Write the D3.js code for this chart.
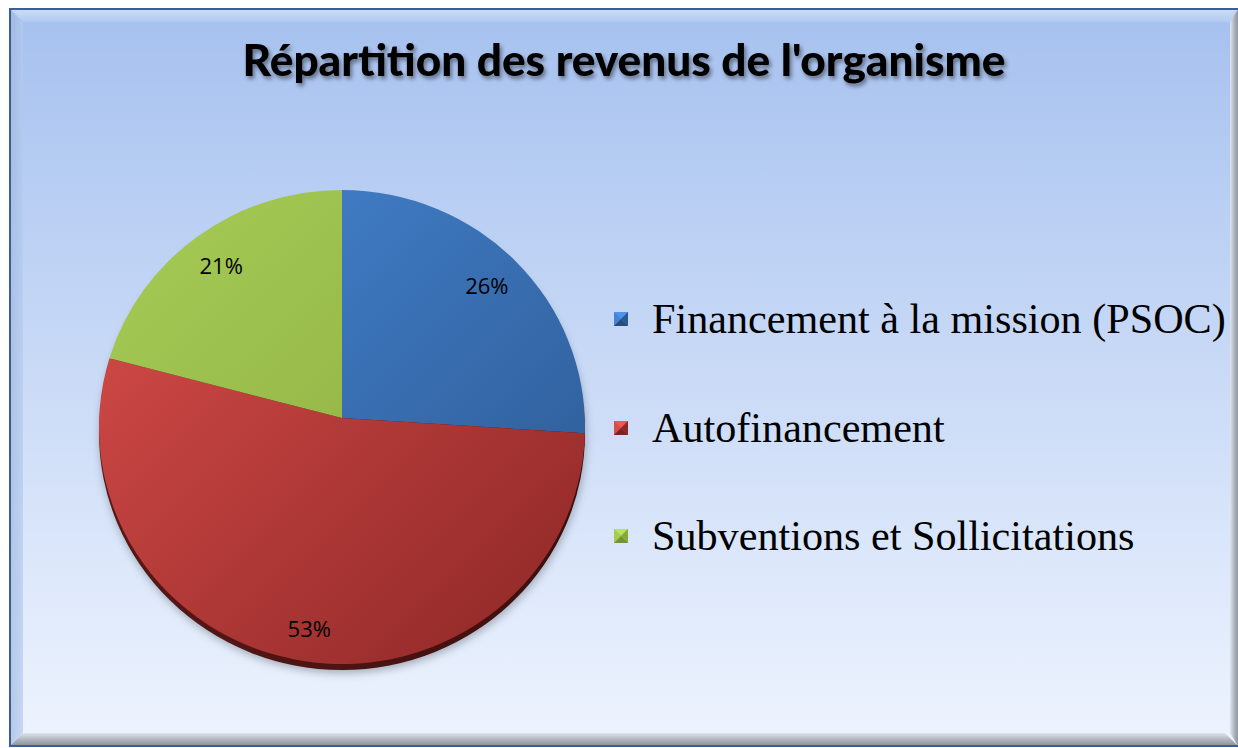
<!DOCTYPE html>
<html><head><meta charset="utf-8">
<script src="https://cdn.jsdelivr.net/npm/d3@7"></script>
<style>html,body{margin:0;padding:0;background:#fff;}svg{display:block;}</style>
</head><body>
<script>
const categories = ["Financement à la mission (PSOC)", "Autofinancement", "Subventions et Sollicitations"];
const values = [26, 53, 21];
const labels = ["26%", "53%", "21%"];
const titleText = "Répartition des revenus de l'organisme";

const W = 1238, H = 748;
const svg = d3.select("body").append("svg").attr("width", W).attr("height", H);
const defs = svg.append("defs");

// background gradient
const bg = defs.append("linearGradient").attr("id","bg").attr("x1",0).attr("y1",0).attr("x2",0).attr("y2",1);
bg.append("stop").attr("offset","0%").attr("stop-color","#a6c1ef");
bg.append("stop").attr("offset","100%").attr("stop-color","#eef4fe");

const bevTop = defs.append("linearGradient").attr("id","bevTop").attr("x1",0).attr("y1",0).attr("x2",0).attr("y2",1);
bevTop.append("stop").attr("offset","0%").attr("stop-color","#d4e2f8");
bevTop.append("stop").attr("offset","100%").attr("stop-color","#b3caf1");
const bevLeft = defs.append("linearGradient").attr("id","bevLeft").attr("x1",0).attr("y1",0).attr("x2",1).attr("y2",0);
bevLeft.append("stop").attr("offset","0%").attr("stop-color","#9fb6dc");
bevLeft.append("stop").attr("offset","100%").attr("stop-color","#b4cbf0");
const bevBot = defs.append("linearGradient").attr("id","bevBot").attr("x1",0).attr("y1",0).attr("x2",0).attr("y2",1);
bevBot.append("stop").attr("offset","0%").attr("stop-color","#dfe4ec");
bevBot.append("stop").attr("offset","60%").attr("stop-color","#a9aeb6");
bevBot.append("stop").attr("offset","100%").attr("stop-color","#8b9098");
const bevRight = defs.append("linearGradient").attr("id","bevRight").attr("x1",0).attr("y1",0).attr("x2",1).attr("y2",0);
bevRight.append("stop").attr("offset","0%").attr("stop-color","#dfe6f0");
bevRight.append("stop").attr("offset","60%").attr("stop-color","#a9b0bb");
bevRight.append("stop").attr("offset","100%").attr("stop-color","#8f96a0");

// chart area
const x0 = 10, y0 = 9, x1 = 1246, y1 = 746, b = 13;
svg.append("rect").attr("x",x0).attr("y",y0).attr("width",x1-x0).attr("height",y1-y0).attr("fill","url(#bg)");
svg.append("polygon").attr("points",`${x0},${y0} ${x1},${y0} ${x1-b},${y0+b} ${x0+b},${y0+b}`).attr("fill","url(#bevTop)").attr("opacity",0.85);
svg.append("polygon").attr("points",`${x0},${y0} ${x0+b},${y0+b} ${x0+b},${y1-b} ${x0},${y1}`).attr("fill","url(#bevLeft)").attr("opacity",0.7);
svg.append("polygon").attr("points",`${x0},${y1} ${x0+b},${y1-b} ${1238-b},${y1-b} ${1238},${y1}`).attr("fill","url(#bevBot)");
svg.append("polygon").attr("points",`1238,${y0} ${1238-b+5},${y0+b} ${1238-b+5},${y1-b} 1238,${y1}`).attr("fill","url(#bevRight)");
svg.append("rect").attr("x",x0).attr("y",y0).attr("width",x1-x0).attr("height",y1-y0).attr("fill","none").attr("stroke","#3b5f95").attr("stroke-width",2);

// title
const tshadow = defs.append("filter").attr("id","tsh").attr("x","-10%").attr("y","-30%").attr("width","120%").attr("height","170%");
tshadow.append("feDropShadow").attr("dx",2).attr("dy",3).attr("stdDeviation",2).attr("flood-color","#000").attr("flood-opacity",0.45);
const title = svg.append("text").attr("x",624).attr("y",76).attr("text-anchor","middle")
  .attr("font-family","Lato, 'Open Sans', sans-serif").attr("font-weight","900").attr("font-size",40)
  .attr("fill","#000").attr("filter","url(#tsh)").text(titleText);
{
  const w = title.node().getComputedTextLength();
  title.attr("font-size", 40 * 763 / w);
}

// pie geometry
const ax = 342, ay = 418;      // apex where slices meet
const ecx = 342, ecy = 427, rx = 243, ry = 237; // outline ellipse
function hit(theta){
  const dx = Math.sin(theta), dy = -Math.cos(theta);
  const ox = ax - ecx, oy = ay - ecy;
  const A = dx*dx/(rx*rx) + dy*dy/(ry*ry);
  const B = 2*(ox*dx/(rx*rx) + oy*dy/(ry*ry));
  const C = ox*ox/(rx*rx) + oy*oy/(ry*ry) - 1;
  const t = (-B + Math.sqrt(B*B - 4*A*C)) / (2*A);
  return {x: ax + t*dx, y: ay + t*dy, t};
}
function psi(p){ let a = Math.atan2((p.x-ecx)/rx, -(p.y-ecy)/ry); if (a < 0) a += 2*Math.PI; return a; }

const pie = d3.pie().sort(null).value(d => d)(values);

// shadow + rim
const sh = defs.append("filter").attr("id","psh").attr("x","-20%").attr("y","-20%").attr("width","140%").attr("height","140%");
sh.append("feGaussianBlur").attr("stdDeviation",4);
svg.append("ellipse").attr("cx",ecx+1).attr("cy",ecy+9).attr("rx",rx).attr("ry",ry).attr("fill","#6b7380").attr("opacity",0.55).attr("filter","url(#psh)");
const rimG = defs.append("linearGradient").attr("id","rim").attr("x1",0).attr("y1",0).attr("x2",1).attr("y2",0);
rimG.append("stop").attr("offset","0%").attr("stop-color","#5a1816");
rimG.append("stop").attr("offset","100%").attr("stop-color","#3c0f0e");
svg.append("ellipse").attr("cx",ecx).attr("cy",ecy+6).attr("rx",rx).attr("ry",ry).attr("fill","url(#rim)");

const sliceColors = [["#4585d2","#2c5891"],["#d84d4a","#8e2827"],["#a6cb55","#87a83e"]];
sliceColors.forEach((c,i) => {
  const g = defs.append("linearGradient").attr("id","sg"+i).attr("gradientUnits","userSpaceOnUse")
    .attr("x1",110).attr("y1",200).attr("x2",560).attr("y2",660);
  g.append("stop").attr("offset","0%").attr("stop-color",c[0]);
  g.append("stop").attr("offset","100%").attr("stop-color",c[1]);
});

svg.append("g").selectAll("path").data(pie).join("path")
  .attr("d", d => {
    const p0 = hit(d.startAngle), p1 = hit(d.endAngle);
    let span = psi(p1) - psi(p0); if (span <= 0) span += 2*Math.PI;
    const large = span > Math.PI ? 1 : 0;
    return `M${ax},${ay}L${p0.x},${p0.y}A${rx},${ry} 0 ${large} 1 ${p1.x},${p1.y}Z`;
  })
  .attr("fill", (d,i) => `url(#sg${i})`)
  .attr("stroke", "none");

// data labels
svg.append("g").selectAll("text").data(pie).join("text")
  .attr("x", d => { const m = (d.startAngle+d.endAngle)/2; const h = hit(m); return ax + (h.x-ax)*0.85; })
  .attr("y", d => { const m = (d.startAngle+d.endAngle)/2; const h = hit(m); return ay + (h.y-ay)*0.85; })
  .attr("dy","0.55em").attr("text-anchor","middle")
  .attr("font-family","'Open Sans', Lato, sans-serif").attr("font-size",22).attr("fill","#000")
  .text((d,i) => labels[i]);

// legend
const legendY = [319, 428, 536];
const leg = svg.append("g");
const ms = 14;
categories.forEach((c,i) => {
  const g = leg.append("g").attr("transform",`translate(614,${legendY[i]-ms/2})`);
  const base = d3.color(sliceColors[i][0]);
  const dark = d3.color(sliceColors[i][1]);
  g.append("rect").attr("width",ms).attr("height",ms).attr("fill",base);
  g.append("polygon").attr("points",`0,0 ${ms},0 ${ms/2},${ms/2}`).attr("fill",base.brighter(0.3));
  g.append("polygon").attr("points",`0,0 ${ms/2},${ms/2} 0,${ms}`).attr("fill",base);
  g.append("polygon").attr("points",`${ms},0 ${ms},${ms} ${ms/2},${ms/2}`).attr("fill",dark);
  g.append("polygon").attr("points",`0,${ms} ${ms/2},${ms/2} ${ms},${ms}`).attr("fill",dark.darker(0.4));
});
const legTexts = leg.selectAll("text.lt").data(categories).join("text").attr("class","lt")
  .attr("x",652).attr("y",(d,i) => legendY[i]).attr("dy","0.33em")
  .attr("font-family","'Liberation Serif', 'Times New Roman', serif").attr("font-size",40).attr("fill","#000")
  .text(d => d);
{
  const w = legTexts.nodes()[0].getComputedTextLength();
  legTexts.attr("font-size", 40 * 574 / w);
}
</script>
</body></html>
